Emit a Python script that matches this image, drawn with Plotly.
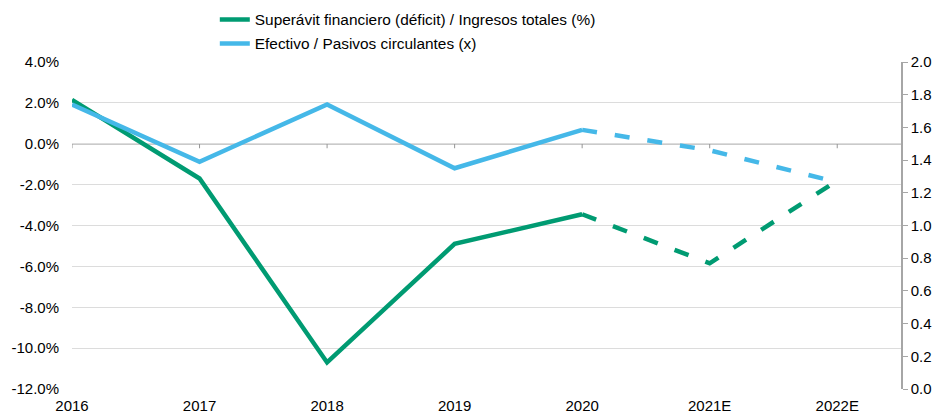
import plotly.graph_objects as go

categories = ["2016", "2017", "2018", "2019", "2020", "2021E", "2022E"]
superavit_pct = [2.15, -1.7, -10.7, -4.9, -3.45, -5.85, -1.8]      # % of total revenue
efectivo_x = [1.74, 1.39, 1.74, 1.35, 1.585, 1.46, 1.265]          # times
n_actual = 5  # 2016-2020 actual, 2020-2022E estimate

left_ticks = [4, 2, 0, -2, -4, -6, -8, -10, -12]
right_ticks = [0.0, 0.2, 0.4, 0.6, 0.8, 1.0, 1.2, 1.4, 1.6, 1.8, 2.0]

GREEN = "#009B72"
BLUE = "#45B8E8"
xs = list(range(len(categories)))

fig = go.Figure()
fig.add_trace(go.Scatter(x=xs[:n_actual], y=superavit_pct[:n_actual], mode="lines",
                         line=dict(color=GREEN, width=4.5),
                         name="Superávit financiero (déficit) / Ingresos totales (%)",
                         legendgroup="a"))
fig.add_trace(go.Scatter(x=xs[:n_actual], y=efectivo_x[:n_actual], mode="lines",
                         line=dict(color=BLUE, width=4.5), yaxis="y2",
                         name="Efectivo / Pasivos circulantes (x)", legendgroup="b"))
fig.add_trace(go.Scatter(x=xs[n_actual - 1:], y=efectivo_x[n_actual - 1:], mode="lines",
                         line=dict(color=BLUE, width=4.5, dash="15px,18px"), yaxis="y2",
                         showlegend=False))
fig.add_trace(go.Scatter(x=xs[n_actual - 1:], y=superavit_pct[n_actual - 1:], mode="lines",
                         line=dict(color=GREEN, width=4.5, dash="15px,18px"),
                         showlegend=False))

# zero line acting as the category axis line, with small tick marks
fig.add_shape(type="line", xref="x", yref="y", x0=0, x1=6.5, y0=0, y1=0,
              line=dict(color="#969696", width=1.5), layer="below")
for xv in xs:
    fig.add_shape(type="line", xref="x", yref="y", x0=xv, x1=xv, y0=0, y1=-0.22,
                  line=dict(color="#969696", width=1), layer="below")

font = dict(family="Liberation Sans, Arial, sans-serif", size=15, color="#000000")
legend_font = dict(family="Liberation Sans, Arial, sans-serif", size=15.4, color="#000000")

fig.update_layout(
    width=938, height=413,
    margin=dict(l=72, r=37, t=62, b=24, autoexpand=False),
    plot_bgcolor="white", paper_bgcolor="white",
    font=font,
    showlegend=True,
    legend=dict(x=0.229, xanchor="left", xref="container", y=0.993, yanchor="top", yref="container",
                orientation="v", tracegroupgap=1, font=legend_font,
                bgcolor="rgba(0,0,0,0)"),
    xaxis=dict(range=[0, 6.5], tickmode="array", tickvals=xs, ticktext=categories,
               showgrid=False, zeroline=False, showline=False, ticks="",
               ticklabelstandoff=6, tickfont=font, fixedrange=True),
    yaxis=dict(range=[-12, 4], tickmode="array", tickvals=left_ticks,
               ticktext=[f"{v:.1f}%" for v in left_ticks],
               showgrid=True, gridcolor="#DCDCDC", gridwidth=1,
               zeroline=False, showline=False, ticks="", ticklabelstandoff=12,
               tickfont=font, automargin=False),
    yaxis2=dict(range=[0, 2.0], overlaying="y", side="right", tickmode="array",
                tickvals=right_ticks, ticktext=[f"{v:.1f}" for v in right_ticks],
                showgrid=False, zeroline=False, showline=True, linecolor="#A6A6A6",
                linewidth=1.5, ticks="outside", ticklen=5, tickcolor="#A6A6A6",
                tickfont=font, automargin=False),
)

fig.write_html("out.html", config={"displayModeBar": False},
               post_script="document.body.style.margin='0';")
